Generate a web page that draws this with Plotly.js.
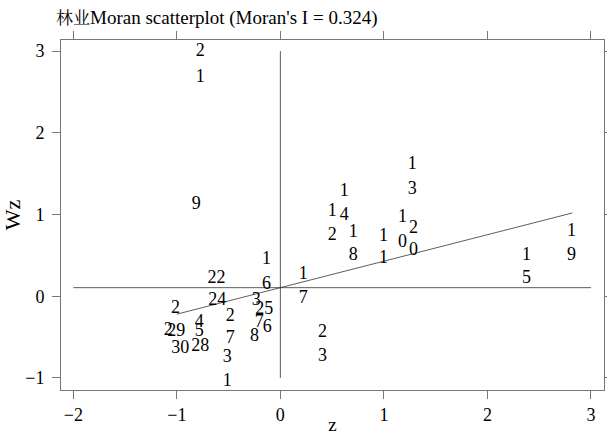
<!DOCTYPE html>
<html>
<head>
<meta charset="utf-8">
<script src="https://cdn.plot.ly/plotly-3.0.1.min.js"></script>
<style>html,body{margin:0;padding:0;background:#fff;}#chart{width:607px;height:435px;}</style>
</head>
<body>
<div id="chart"></div>
<script>
// Standardized values (z) and spatial lag (Wz), with the label shown at each point
const zValues = [-0.773,-0.773,-0.812,-0.135,-0.618,-0.135,0.222,0.222,-1.014,-0.609,-0.232,-0.155,-0.483,-0.783,-0.783,-1.082,-1.005,-0.203,-0.126,-0.251,-0.483,-0.512,-0.512,-0.966,-0.773,0.406,0.406,1.275,1.275,0.618,0.502,0.618,1.179,1.285,0.502,0.705,0.995,1.179,0.705,1.285,0.995,2.812,2.812,2.377,2.377];
const wzValues = [2.99,2.68,1.117,0.444,0.212,0.138,0.261,-0.033,-0.155,-0.058,-0.058,-0.168,-0.253,-0.327,-0.437,-0.424,-0.437,-0.327,-0.388,-0.498,-0.522,-0.755,-1.048,-0.645,-0.620,-0.449,-0.743,1.606,1.300,1.276,1.031,0.994,0.958,0.835,0.738,0.774,0.725,0.652,0.493,0.554,0.456,0.787,0.493,0.493,0.212];
const pointLabels = ["2","1","9","1","22","6","1","7","2","24","3","25","2","4","5","2","29","7","6","8","7","3","1","30","28","2","3","1","3","1","1","4","1","2","2","1","1","0","8","0","1","1","9","1","5"];

const moranI = 0.324;
const wzMean = 0.105;
const hLineX = [-2, 3];
const vLineY = [-1, 3];
const fitX = [-1.0, 2.82];

const xTicks = [-2, -1, 0, 1, 2, 3];
const yTicks = [-1, 0, 1, 2, 3];

const serif = '"Liberation Serif", "Times New Roman", "Noto Serif CJK SC", "Noto Sans CJK SC", serif';
const lineCol = '#333';

const traces = [
  {x: hLineX, y: hLineX.map(() => wzMean), mode: 'lines', line: {color: lineCol, width: 0.8}, hoverinfo: 'skip'},
  {x: vLineY.map(() => 0), y: vLineY, mode: 'lines', line: {color: lineCol, width: 0.8}, hoverinfo: 'skip'},
  {x: fitX, y: fitX.map(v => wzMean + moranI * v), mode: 'lines', line: {color: lineCol, width: 0.8}, hoverinfo: 'skip'},
  {x: zValues, y: wzValues, mode: 'text', text: pointLabels, textposition: 'middle center',
   textfont: {family: serif, size: 18, color: '#000'}, hoverinfo: 'skip'}
];

const axisCommon = {
  showgrid: false, zeroline: false, showline: true, linecolor: '#777', linewidth: 1,
  mirror: 'ticks', ticks: 'outside', ticklen: 8, tickcolor: '#777', tickwidth: 1,
  tickfont: {family: serif, size: 18, color: '#000'}
};

const layout = {
  width: 607, height: 435,
  margin: {l: 61, r: 3, t: 40, b: 45},
  paper_bgcolor: '#fff', plot_bgcolor: '#fff',
  showlegend: false,
  title: {text: '<span style="font-size:17px">林业</span>Moran scatterplot (Moran\'s I = ' + moranI.toFixed(3) + ')',
          font: {family: serif, size: 19, color: '#000'},
          xref: 'container', x: 56/607, xanchor: 'left', yref: 'container', y: 1 - 17/435, yanchor: 'middle'},
  xaxis: Object.assign({}, axisCommon, {range: [-2.119, 3.126], tickvals: xTicks,
          title: {text: 'z', font: {family: serif, size: 19, color: '#000'}, standoff: 2}}),
  yaxis: Object.assign({}, axisCommon, {range: [-1.147, 3.135], tickvals: yTicks, ticklabelstandoff: 4,
          title: {text: 'Wz', font: {family: serif, size: 22, color: '#000'}, standoff: 0}})
};

Plotly.newPlot('chart', traces, layout, {displayModeBar: false, staticPlot: true});
</script>
</body>
</html>
